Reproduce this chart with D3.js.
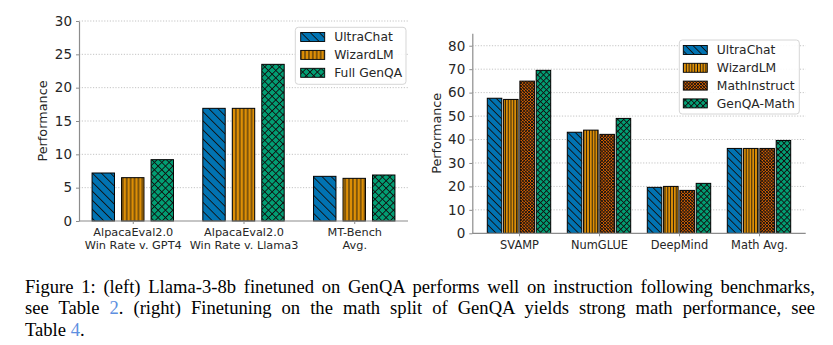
<!DOCTYPE html>
<html>
<head>
<meta charset="utf-8">
<script src="https://cdn.jsdelivr.net/npm/d3@7"></script>
<style>
  body { margin: 0; background: #fff; }
  svg { display: block; }
</style>
</head>
<body>
<svg id="fig" width="833" height="345"></svg>
<script>
// left panel: instruction following benchmarks
const leftCategories = [["AlpacaEval2.0", "Win Rate v. GPT4"], ["AlpacaEval2.0", "Win Rate v. Llama3"], ["MT-Bench", "Avg."]]
const leftSeries = ["UltraChat", "WizardLM", "Full GenQA"]
const leftUltraChat = [7.2, 16.9, 6.7]
const leftWizardLM = [6.5, 16.9, 6.4]
const leftFullGenQA = [9.2, 23.5, 6.9]
const leftTicks = [0, 5, 10, 15, 20, 25, 30]

// right panel: math benchmarks
const rightCategories = [["SVAMP"], ["NumGLUE"], ["DeepMind"], ["Math Avg."]]
const rightSeries = ["UltraChat", "WizardLM", "MathInstruct", "GenQA-Math"]
const rightUltraChat = [57.6, 43.1, 19.6, 36.2]
const rightWizardLM = [57.1, 44.0, 20.0, 36.2]
const rightMathInstruct = [64.9, 42.2, 18.3, 36.2]
const rightGenQAMath = [69.5, 49.0, 21.3, 39.6]
const rightTicks = [0, 10, 20, 30, 40, 50, 60, 70, 80]

const captionLines = [
  [["Figure 1: (left) Llama-3-8b finetuned on GenQA performs well on instruction following benchmarks,", false]],
  [["see Table ", false], ["2", true], [". (right) Finetuning on the math split of GenQA yields strong math performance, see", false]],
  [["Table ", false], ["4", true], [".", false]]
]

const colors = {
  "UltraChat": "#0173b2",
  "WizardLM": "#de8f05",
  "MathInstruct": "#d55e00",
  "Full GenQA": "#029e73",
  "GenQA-Math": "#029e73"
}
const hatchKind = {
  "UltraChat": "diag",
  "WizardLM": "vert",
  "MathInstruct": "dense",
  "Full GenQA": "cross",
  "GenQA-Math": "cross"
}

const svg = d3.select("#fig")
const defs = svg.append("defs")
const font = "'DejaVu Sans', sans-serif"
const axisGray = "#8c8c8c"
const textColor = "#262626"

// hatch patterns, one set per panel since the two panels use different densities
function makePattern(id, kind, fill, s) {
  let p = defs.append("pattern")
    .attr("id", id)
    .attr("patternUnits", "userSpaceOnUse")
  let lw = 0.9
  if (kind === "diag") {
    p.attr("width", s.diag).attr("height", s.diag).attr("patternTransform", "rotate(-45)")
    p.append("rect").attr("width", s.diag).attr("height", s.diag).attr("fill", fill)
    p.append("line").attr("x1", 0).attr("x2", 0).attr("y1", 0).attr("y2", s.diag)
      .attr("stroke", "#111").attr("stroke-width", lw * 2)
  } else if (kind === "vert") {
    p.attr("width", s.vert).attr("height", 10)
    p.append("rect").attr("width", s.vert).attr("height", 10).attr("fill", fill)
    p.append("line").attr("x1", s.vert / 2).attr("x2", s.vert / 2).attr("y1", 0).attr("y2", 10)
      .attr("stroke", "#111").attr("stroke-width", lw)
  } else {
    let c = kind === "cross" ? s.cross : s.dense
    let w = kind === "cross" ? lw : 0.7
    p.attr("width", c).attr("height", c).attr("patternTransform", "rotate(45)")
    p.append("rect").attr("width", c).attr("height", c).attr("fill", fill)
    p.append("path").attr("d", "M0,0V" + c + "M0,0H" + c)
      .attr("stroke", "#111").attr("stroke-width", w * 2).attr("fill", "none")
  }
}

function drawPanel(cfg) {
  let g = svg.append("g")
  let values = cfg.values

  let x0 = d3.scaleBand()
    .domain(d3.range(cfg.categories.length))
    .range([cfg.left, cfg.right])
    .paddingInner(cfg.groupPadInner)
    .paddingOuter(cfg.groupPadOuter)

  let x1 = d3.scaleBand()
    .domain(cfg.series)
    .range([0, x0.bandwidth()])
    .paddingInner(cfg.barPad)

  let y = d3.scaleLinear()
    .domain([0, cfg.yMax])
    .range([cfg.bottom, cfg.top])

  cfg.series.forEach(function(name) {
    makePattern(cfg.id + "-" + hatchKind[name] + "-" + name.replace(/\W/g, ""), hatchKind[name], colors[name], cfg.hatch)
  })

  // dotted grid
  g.append("g")
    .selectAll("line")
    .data(cfg.ticks.filter(function(t) { return t > 0 }))
    .enter()
    .append("line")
    .attr("x1", cfg.left)
    .attr("x2", cfg.right)
    .attr("y1", function(d) { return y(d) })
    .attr("y2", function(d) { return y(d) })
    .attr("stroke", "#c4c4c4")
    .attr("stroke-width", 1)
    .attr("stroke-dasharray", "1.2,1.6")

  // bars
  cfg.series.forEach(function(name, si) {
    let pid = "url(#" + cfg.id + "-" + hatchKind[name] + "-" + name.replace(/\W/g, "") + ")"
    g.append("g")
      .selectAll("rect")
      .data(values[si])
      .enter()
      .append("rect")
      .attr("x", function(d, i) { return x0(i) + x1(name) })
      .attr("y", function(d) { return y(d) })
      .attr("width", x1.bandwidth())
      .attr("height", function(d) { return y(0) - y(d) })
      .attr("fill", pid)
      .attr("stroke", "#000")
      .attr("stroke-width", 1)
  })

  // y axis
  let yAxis = g.append("g")
    .attr("transform", "translate(" + cfg.left + ",0)")
    .call(d3.axisLeft(y).tickValues(cfg.ticks).tickSize(3).tickPadding(4).tickSizeOuter(0))
  yAxis.select(".domain").attr("stroke", axisGray).attr("stroke-width", 1.2)
  yAxis.selectAll(".tick line").attr("stroke", axisGray)
  yAxis.selectAll(".tick text")
    .attr("font-family", font)
    .attr("font-size", 13.5)
    .attr("fill", textColor)

  // x axis
  let xAxis = g.append("g")
    .attr("transform", "translate(0," + cfg.bottom + ")")
    .call(d3.axisBottom(d3.scalePoint().domain(d3.range(cfg.categories.length))
      .range([x0(0) + x0.bandwidth() / 2, x0(cfg.categories.length - 1) + x0.bandwidth() / 2]))
      .tickSize(3).tickSizeOuter(0).tickFormat(""))
  xAxis.select(".domain").remove()
  xAxis.selectAll(".tick line").attr("stroke", axisGray)
  g.append("line")
    .attr("x1", cfg.left).attr("x2", cfg.right)
    .attr("y1", cfg.bottom).attr("y2", cfg.bottom)
    .attr("stroke", axisGray).attr("stroke-width", 1.2)

  xAxis.selectAll(".tick").each(function(d) {
    let t = d3.select(this).append("text")
      .attr("font-family", font)
      .attr("font-size", cfg.xFont)
      .attr("fill", textColor)
      .attr("text-anchor", "middle")
    cfg.categories[d].forEach(function(line, li) {
      t.append("tspan")
        .attr("x", 0)
        .attr("y", cfg.xLabelY + li * cfg.xLineGap)
        .text(line)
    })
  })

  // y label
  g.append("text")
    .attr("transform", "translate(" + cfg.yLabelX + "," + (cfg.top + cfg.bottom) / 2 + ") rotate(-90)")
    .attr("text-anchor", "middle")
    .attr("font-family", font)
    .attr("font-size", 12.8)
    .attr("fill", textColor)
    .text("Performance")

  // legend
  let lg = g.append("g").attr("transform", "translate(" + cfg.legend.x + "," + cfg.legend.y + ")")
  lg.append("rect")
    .attr("width", cfg.legend.w)
    .attr("height", cfg.legend.h)
    .attr("rx", 3)
    .attr("fill", "#fff")
    .attr("fill-opacity", 0.9)
    .attr("stroke", "#d6d6d6")
  cfg.series.forEach(function(name, i) {
    let cy = cfg.legend.first + i * cfg.legend.gap
    lg.append("rect")
      .attr("x", cfg.legend.patchX)
      .attr("y", cy - 4.5)
      .attr("width", 24)
      .attr("height", 9)
      .attr("fill", "url(#" + cfg.id + "-" + hatchKind[name] + "-" + name.replace(/\W/g, "") + ")")
      .attr("stroke", "#000")
      .attr("stroke-width", 0.9)
    lg.append("text")
      .attr("x", cfg.legend.patchX + 33.5)
      .attr("y", cy)
      .attr("dy", "0.36em")
      .attr("font-family", font)
      .attr("font-size", 12.3)
      .attr("fill", textColor)
      .text(name)
  })
}

drawPanel({
  id: "l",
  categories: leftCategories,
  series: leftSeries,
  values: [leftUltraChat, leftWizardLM, leftFullGenQA],
  ticks: leftTicks,
  yMax: 30,
  left: 79, right: 408, top: 21, bottom: 221,
  groupPadInner: 0.265, groupPadOuter: 0.118, barPad: 0.24,
  hatch: { diag: 6.4, vert: 3.9, cross: 5.2, dense: 2.2 },
  xFont: 11.3, xLabelY: 14.5, xLineGap: 13.5,
  yLabelX: 47,
  legend: { x: 295.3, y: 27.3, w: 110.7, h: 57, patchX: 5.4, first: 9.7, gap: 17.9 }
})

drawPanel({
  id: "r",
  categories: rightCategories,
  series: rightSeries,
  values: [rightUltraChat, rightWizardLM, rightMathInstruct, rightGenQAMath],
  ticks: rightTicks,
  yMax: 85.3,
  left: 472.3, right: 805.7, top: 33.3, bottom: 233.3,
  groupPadInner: 0.2075, groupPadOuter: 0.1875, barPad: 0.11,
  hatch: { diag: 5.3, vert: 2.8, cross: 4.2, dense: 2.2 },
  xFont: 11.4, xLabelY: 16, xLineGap: 13.5,
  yLabelX: 440.5,
  legend: { x: 679.3, y: 40, w: 120, h: 74, patchX: 4, first: 10, gap: 17.8 }
})

// caption, justified by widening word gaps (measured, then corrected once)
const capLeft = 25, capRight = 815
captionLines.forEach(function(parts, i) {
  let t = svg.append("text")
    .attr("x", capLeft)
    .attr("y", 292.7 + i * 21.5)
    .attr("font-family", "'Liberation Serif', 'Times New Roman', serif")
    .attr("font-size", 18.6)
    .attr("fill", "#000")
  parts.forEach(function(p) {
    t.append("tspan")
      .attr("fill", p[1] ? "#5e8fe0" : "#000")
      .text(p[0])
  })
  if (i < captionLines.length - 1) {
    let spaces = parts.map(function(p) { return p[0] }).join("").split(" ").length - 1
    let ws = 0
    for (let k = 0; k < 3; k++) {
      let box = t.node().getBBox()
      ws += (capRight - (box.x + box.width)) / spaces
      t.attr("word-spacing", ws)
    }
  }
})
</script>
</body>
</html>
